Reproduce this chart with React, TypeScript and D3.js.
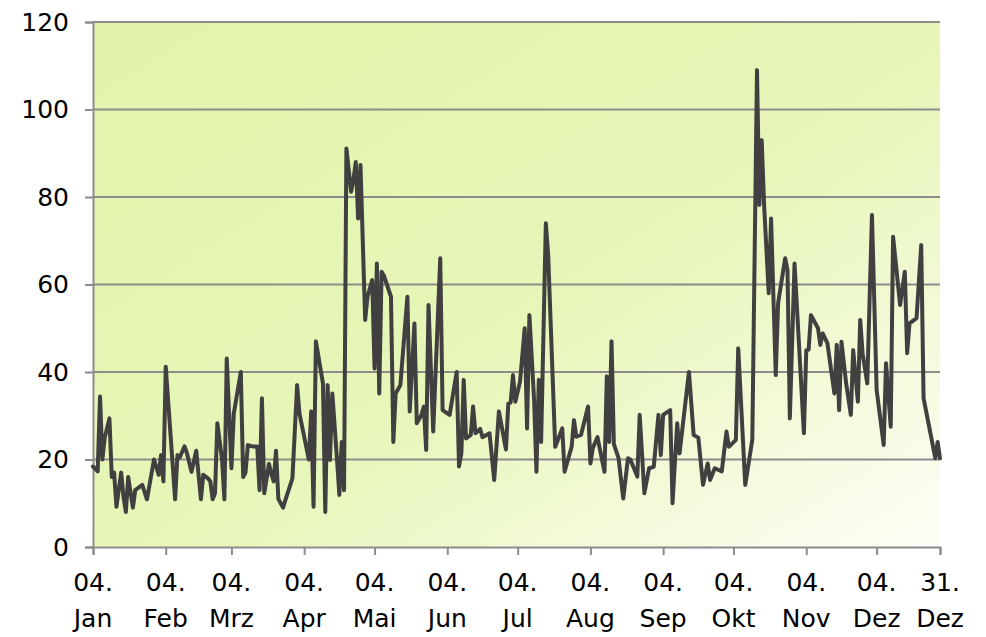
import React, { useEffect, useRef } from "react";
import * as d3 from "d3";

// daily values (year without leap day)
const dates = [
  "01-04", "01-06", "01-07", "01-08", "01-09", "01-11", "01-12", "01-13", "01-14", "01-16",
  "01-17", "01-18", "01-19", "01-21", "01-22", "01-25", "01-27", "01-30", "02-01", "02-02",
  "02-03", "02-04", "02-08", "02-09", "02-10", "02-12", "02-13", "02-15", "02-17", "02-19",
  "02-20", "02-22", "02-23", "02-24", "02-25", "02-26", "02-28", "03-01", "03-02", "03-04",
  "03-05", "03-08", "03-09", "03-10", "03-11", "03-13", "03-15", "03-16", "03-17", "03-18",
  "03-20", "03-21", "03-22", "03-23", "03-24", "03-26", "03-27", "03-30", "04-01", "04-02",
  "04-06", "04-07", "04-08", "04-09", "04-12", "04-13", "04-14", "04-15", "04-16", "04-18",
  "04-19", "04-20", "04-21", "04-22", "04-24", "04-25", "04-26", "04-27", "04-28", "04-30",
  "05-01", "05-03", "05-04", "05-05", "05-06", "05-07", "05-08", "05-11", "05-12", "05-13",
  "05-15", "05-18", "05-19", "05-21", "05-22", "05-24", "05-25", "05-26", "05-27", "05-29",
  "06-01", "06-02", "06-05", "06-08", "06-09", "06-10", "06-11", "06-12", "06-14", "06-15",
  "06-16", "06-18", "06-19", "06-22", "06-24", "06-26", "06-29", "06-30", "07-01", "07-02",
  "07-03", "07-05", "07-07", "07-08", "07-09", "07-11", "07-12", "07-13", "07-14", "07-16",
  "07-17", "07-20", "07-23", "07-24", "07-27", "07-28", "07-29", "07-31", "08-03", "08-04",
  "08-05", "08-07", "08-10", "08-11", "08-12", "08-13", "08-14", "08-16", "08-18", "08-20",
  "08-21", "08-24", "08-25", "08-27", "08-29", "08-31", "09-02", "09-03", "09-04", "09-07",
  "09-08", "09-10", "09-11", "09-15", "09-17", "09-19", "09-21", "09-23", "09-24", "09-26",
  "09-29", "10-01", "10-02", "10-05", "10-06", "10-09", "10-12", "10-14", "10-15", "10-16",
  "10-17", "10-19", "10-20", "10-22", "10-23", "10-26", "10-27", "10-28", "10-30", "11-03",
  "11-04", "11-05", "11-06", "11-09", "11-10", "11-11", "11-13", "11-16", "11-17", "11-18",
  "11-19", "11-21", "11-23", "11-24", "11-26", "11-27", "11-28", "11-30", "12-02", "12-04",
  "12-07", "12-08", "12-10", "12-11", "12-14", "12-16", "12-17", "12-18", "12-21", "12-23",
  "12-24", "12-29", "12-30", "12-31",
];

const values = [
  18.4, 17.3, 34.4, 20, 25, 29.4, 16, 17, 9.2, 17,
  11.5, 8, 16, 9, 13, 14.2, 10.9, 20, 16.5, 21,
  15, 41.2, 10.9, 21, 20.5, 23, 21.5, 17.2, 22, 10.9,
  16.5, 15.7, 15, 10.9, 12.3, 28.3, 20, 10.9, 43.1, 18,
  30.5, 40, 16, 17, 23.3, 23, 23, 13, 34, 12.3,
  19, 16.7, 15, 22, 11, 9, 10.7, 15.7, 37, 30.5,
  20, 31, 9.2, 47, 37.4, 8, 37, 19.9, 35.1, 20,
  11.9, 24, 13, 91.1, 81.2, 83.9, 88, 75.1, 87.3, 51.9,
  57.2, 61, 40.8, 64.8, 35.1, 62.9, 62, 57.2, 24, 35.1,
  37, 57.2, 31, 51.1, 28.3, 30.2, 32.1, 22.2, 55.3, 26.4,
  66, 31.3, 30.2, 40, 18.4, 21.4, 38.2, 24.8, 25.6, 32.1,
  26, 27, 25.1, 26, 15.3, 31, 22.3, 32.8, 33, 39.3,
  33.2, 37.8, 50, 27.1, 53, 33.6, 17.2, 38.2, 24, 74,
  66.7, 22.9, 27.1, 17.2, 22.9, 29, 25.2, 25.6, 32.1, 19.1,
  22.6, 25.1, 17.2, 39, 24, 47, 23.5, 20.3, 11.1, 20.3,
  20, 16.1, 30.2, 12.3, 18, 18.3, 30.2, 21, 30.2, 31.3,
  10, 28.3, 21.4, 40, 25.6, 25, 14.2, 19.1, 15.3, 18,
  17.3, 26.4, 22.9, 24.5, 45.4, 14.2, 24.5, 109, 78.2, 93,
  78.5, 58, 75.1, 39.3, 55.7, 66, 63.3, 29.4, 64.8, 26,
  45, 45.1, 53, 50, 46.2, 48.8, 46.6, 35.1, 46.2, 31.3,
  46.9, 37.4, 30.2, 45, 33.2, 51.9, 44.3, 37.4, 75.9, 35.9,
  23.3, 42, 27.5, 70.9, 55.3, 62.9, 44.3, 51.1, 52.3, 69,
  34, 20.3, 24, 20.3,
];

const tickDates = [
  "01-04", "02-04", "03-04", "04-04", "05-04", "06-04", "07-04",
  "08-04", "09-04", "10-04", "11-04", "12-04", "12-31",
];
const tickDays = ["04.", "04.", "04.", "04.", "04.", "04.", "04.", "04.", "04.", "04.", "04.", "04.", "31."];
const tickMonths = ["Jan", "Feb", "Mrz", "Apr", "Mai", "Jun", "Jul", "Aug", "Sep", "Okt", "Nov", "Dez", "Dez"];
const yTicks = [0, 20, 40, 60, 80, 100, 120];

const parse = d3.timeParse("%Y-%m-%d");
const toDate = (s: string) => parse("2010-" + s) as Date;

export default function App() {
  const ref = useRef<SVGSVGElement>(null);

  useEffect(() => {
    const W = 986, H = 637;
    const margin = { top: 22, right: 46, bottom: 90, left: 93 };
    const w = W - margin.left - margin.right;
    const h = H - margin.top - margin.bottom;
    const font = "Verdana, 'DejaVu Sans', sans-serif";

    const svg = d3.select(ref.current);
    svg.selectAll("*").remove();

    const defs = svg.append("defs");
    const grad = defs
      .append("linearGradient")
      .attr("id", "bg")
      .attr("x1", 0)
      .attr("y1", 0)
      .attr("x2", 1)
      .attr("y2", 1);
    grad.append("stop").attr("offset", 0).attr("stop-color", "#e2f4ab");
    grad.append("stop").attr("offset", 0.55).attr("stop-color", "#e7f6b9");
    grad.append("stop").attr("offset", 1).attr("stop-color", "#fdfef7");

    const g = svg.append("g").attr("transform", `translate(${margin.left},${margin.top})`);

    const x = d3
      .scaleTime()
      .domain([toDate("01-04"), toDate("12-31")])
      .range([0, w]);
    const y = d3.scaleLinear().domain([0, 120]).range([h, 0]);

    g.append("rect").attr("width", w).attr("height", h).attr("fill", "url(#bg)");

    // gridlines
    g.selectAll(".grid")
      .data(yTicks.filter((t) => t > 0))
      .join("line")
      .attr("class", "grid")
      .attr("x1", 0)
      .attr("x2", w)
      .attr("y1", (d) => y(d))
      .attr("y2", (d) => y(d))
      .attr("stroke", "#8c8c8c")
      .attr("stroke-width", 2);

    // y axis
    const yAxis = g
      .append("g")
      .call(d3.axisLeft(y).tickValues(yTicks).tickSize(8).tickPadding(16));
    yAxis.select(".domain").attr("stroke", "#8c8c8c").attr("stroke-width", 2);
    yAxis.selectAll(".tick line").attr("stroke", "#8c8c8c").attr("stroke-width", 2);
    yAxis
      .selectAll(".tick text")
      .attr("font-family", font)
      .attr("font-size", 25)
      .attr("fill", "#000");

    // x axis
    const xAxis = g
      .append("g")
      .attr("transform", `translate(0,${h})`)
      .call(
        d3
          .axisBottom(x)
          .tickValues(tickDates.map(toDate))
          .tickSize(8)
          .tickFormat(() => "")
      );
    xAxis.select(".domain").attr("stroke", "#8c8c8c").attr("stroke-width", 2);
    xAxis.selectAll(".tick line").attr("stroke", "#8c8c8c").attr("stroke-width", 2);

    const labels = g
      .selectAll(".xlab")
      .data(tickDates)
      .join("text")
      .attr("class", "xlab")
      .attr("transform", (d) => `translate(${x(toDate(d))},${h})`)
      .attr("text-anchor", "middle")
      .attr("font-family", font)
      .attr("font-size", 25)
      .attr("fill", "#000");
    labels
      .append("tspan")
      .attr("x", 0)
      .attr("y", 44)
      .text((d, i) => tickDays[i]);
    labels
      .append("tspan")
      .attr("x", 0)
      .attr("y", 80)
      .text((d, i) => tickMonths[i]);

    const line = d3
      .line<number>()
      .x((d, i) => x(toDate(dates[i])))
      .y((d) => y(d));

    g.append("path")
      .datum(values)
      .attr("d", line)
      .attr("fill", "none")
      .attr("stroke", "#404040")
      .attr("stroke-width", 4)
      .attr("stroke-linejoin", "round")
      .attr("stroke-linecap", "round");
  }, []);

  return (
    <svg
      ref={ref}
      width={986}
      height={637}
      style={{ position: "absolute", left: 0, top: 0, background: "#fff" }}
    />
  );
}
